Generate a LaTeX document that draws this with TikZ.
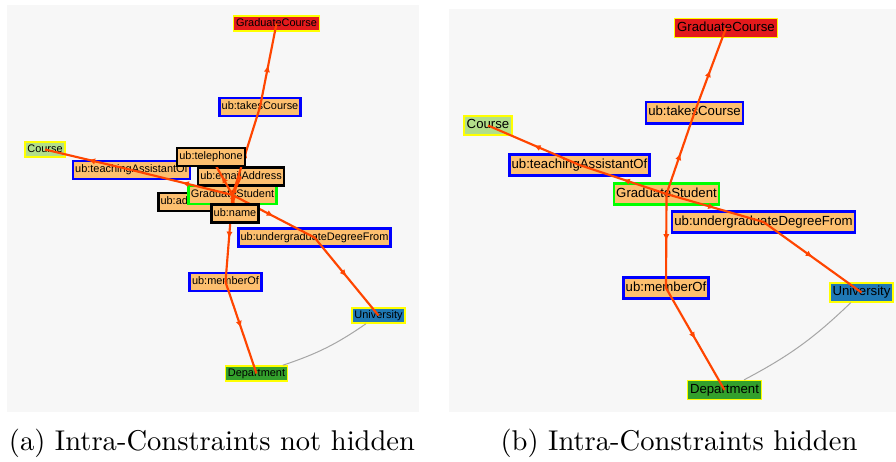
\documentclass[tikz,border=0pt]{standalone}
\usepackage{fontspec}
\usepackage{xcolor}
\usepackage{tikz}
\usetikzlibrary{arrows.meta,decorations.markings}
\newfontfamily\labelfont{Liberation Sans}
\definecolor{PanelBg}{HTML}{F7F7F7}
\definecolor{PropFill}{HTML}{FDBF6F}
\definecolor{ClsRed}{HTML}{E31A1C}
\definecolor{ClsLight}{HTML}{B2DF8A}
\definecolor{ClsBlue}{HTML}{1F78B4}
\definecolor{ClsGreen}{HTML}{33A02C}
\definecolor{RelRed}{HTML}{FF4500}
\definecolor{BorderBlue}{HTML}{0000FF}
\definecolor{BorderGreen}{HTML}{00FF00}
\definecolor{BorderYellow}{HTML}{FFFF00}
\pgfdeclarelayer{front}
\pgfsetlayers{main,front}
\tikzset{
  cls/.style={draw=BorderYellow,line width=0.5pt,inner xsep=0.9pt,inner ysep=0pt},
  prop/.style={fill=PropFill,draw=BorderBlue,line width=0.9pt,inner xsep=0.8pt,inner ysep=0pt},
  attr/.style={prop,draw=black},
  focus/.style={prop,draw=BorderGreen},
  rel/.style={RelRed,line width=0.75pt,postaction={decorate},
    decoration={markings,mark=at position 0.5 with {\arrow{Latex[length=2.4pt,width=2.2pt]}}}},
  hint/.style={black!35,line width=0.35pt},
  panel/.style={fill=PanelBg,draw=none}
}

\begin{document}
\begin{tikzpicture}[x=0.35pt,y=-0.35pt]
  \useasboundingbox (0,0) rectangle (896,461);

  % (a) Intra-Constraints not hidden
  \fill[panel] (7,5) rectangle (419,412);
  \begin{scope}[font=\labelfont\fontsize{3.83pt}{4.5pt}\selectfont,
      every node/.append style={text height=2.8pt,text depth=0.8pt},
      cls/.append style={minimum height=5.3pt},
      prop/.append style={minimum height=6.3pt}]
    \node[cls,fill=ClsRed]   (gradCourseA) at (276.5,23.5) {GraduateCourse};
    \node[prop]              (takesA)      at (260,107)    {ub:takesCourse};
    \node[cls,fill=ClsLight] (courseA)     at (45,149.5)   {Course};
    \node[prop]              (assistA)     at (131.5,170)  {ub:teachingAssistantOf};
    \node[prop]              (degreeA)     at (314.5,237.5) {ub:undergraduateDegreeFrom};
    \node[prop]              (memberA)     at (225.5,282)  {ub:memberOf};
    \node[cls,fill=ClsBlue]  (univA)       at (378.5,315.5) {University};
    \node[cls,fill=ClsGreen] (deptA)       at (256.5,373.5) {Department};
    \node[attr,anchor=west]  (advisorA)    at (157,202)    {ub:advisor};
    \node[focus]             (studentA)    at (232.5,195)  {GraduateStudent};
    \node[attr]              (mailA)       at (241,176.5)  {ub:emailAddress};
    \begin{pgfonlayer}{front}
      \node[attr] (phoneA) at (211,157)   {ub:telephone};
      \node[attr] (nameA)  at (235,213.5) {ub:name};
    \end{pgfonlayer}

    \draw[hint] (univA) to[bend left=8] (deptA);
    \draw[rel] (studentA.center) -- (takesA.center);
    \draw[rel] (takesA.center) -- (gradCourseA.center);
    \draw[rel] (studentA.center) -- (assistA.center);
    \draw[rel] (assistA.center) -- (courseA.center);
    \draw[rel] (studentA.center) -- (degreeA.center);
    \draw[rel] (degreeA.center) -- (univA.center);
    \draw[rel] (studentA.center) -- (memberA.center);
    \draw[rel] (memberA.center) -- (deptA.center);
    \draw[rel] (studentA.center) -- (phoneA.center);
    \draw[rel] (studentA.center) -- (mailA.center);
    \draw[rel] (studentA.center) -- (nameA.center);
  \end{scope}
  \node[anchor=base] (capA) at (212,450) {(a) Intra-Constraints not hidden};

  % (b) Intra-Constraints hidden
  \fill[panel] (449,9) rectangle (896,412);
  \begin{scope}[font=\labelfont\fontsize{4.62pt}{5.4pt}\selectfont,
      every node/.append style={text height=3.4pt,text depth=1pt},
      cls/.append style={minimum height=6.6pt},
      prop/.append style={minimum height=7.5pt}]
    \node[cls,fill=ClsRed]   (gradCourseB) at (726,28)     {GraduateCourse};
    \node[prop]              (takesB)      at (694.5,112.5) {ub:takesCourse};
    \node[cls,fill=ClsLight] (courseB)     at (488,125.5)  {Course};
    \node[prop]              (assistB)     at (579.5,165)  {ub:teachingAssistantOf};
    \node[focus]             (studentB)    at (666.5,194)  {GraduateStudent};
    \node[prop]              (degreeB)     at (763.5,222)  {ub:undergraduateDegreeFrom};
    \node[prop]              (memberB)     at (666,288)    {ub:memberOf};
    \node[cls,fill=ClsBlue]  (univB)       at (861.5,292.5) {University};
    \node[cls,fill=ClsGreen] (deptB)       at (724.5,390)  {Department};

    \draw[hint] (univB) to[bend left=8] (deptB);
    \draw[rel] (studentB.center) -- (takesB.center);
    \draw[rel] (takesB.center) -- (gradCourseB.center);
    \draw[rel] (studentB.center) -- (assistB.center);
    \draw[rel] (assistB.center) -- (courseB.center);
    \draw[rel] (studentB.center) -- (degreeB.center);
    \draw[rel] (degreeB.center) -- (univB.center);
    \draw[rel] (studentB.center) -- (memberB.center);
    \draw[rel] (memberB.center) -- (deptB.center);
  \end{scope}
  \node[anchor=base] (capB) at (679,450) {(b) Intra-Constraints hidden};
\end{tikzpicture}
\end{document}
